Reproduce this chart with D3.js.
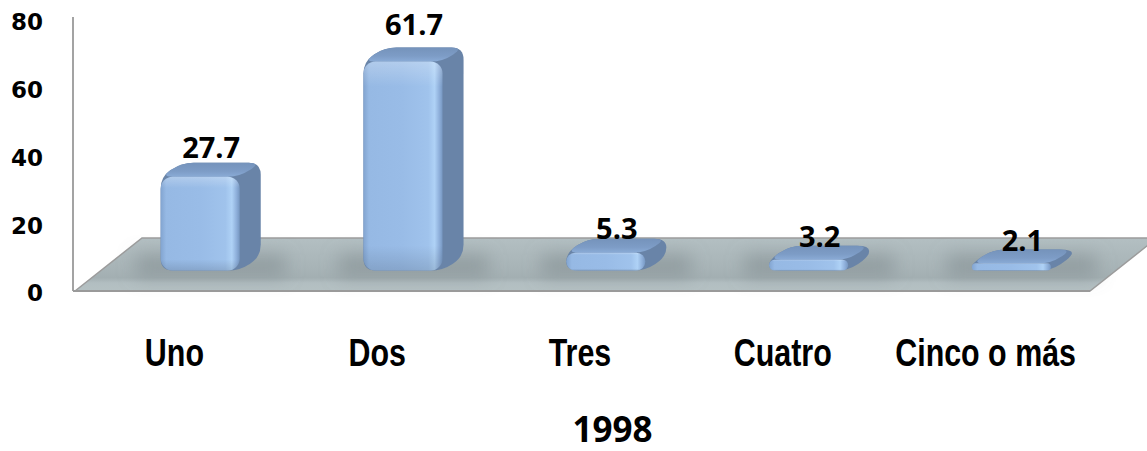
<!DOCTYPE html>
<html>
<head>
<meta charset="utf-8">
<script src="https://cdn.jsdelivr.net/npm/d3@7"></script>
<style>
  body { margin: 0; background: #fff; }
  .tick-label { font-family: "DejaVu Sans", Verdana, sans-serif; font-weight: bold; font-size: 23px; fill: #000; }
  .cat-label { font-family: "Liberation Sans", Arial, sans-serif; font-weight: bold; font-size: 38px; fill: #000; }
  .value-label { font-family: "Open Sans", "Noto Sans", sans-serif; font-weight: bold; font-size: 29px; fill: #000; }
  .axis-title { font-family: "Open Sans", "Noto Sans", sans-serif; font-weight: bold; font-size: 35px; fill: #000; }
</style>
</head>
<body>
<svg id="chart"></svg>
<script>
// data
const categories = ["Uno", "Dos", "Tres", "Cuatro", "Cinco o más"];
const values = [27.7, 61.7, 5.3, 3.2, 2.1];
const yTicks = [0, 20, 40, 60, 80];
const axisTitle = "1998";

const width = 1147, height = 451;
const narrow = 0.8; // no narrow font installed, squeeze the bold one

const svg = d3.select("#chart")
  .attr("width", width)
  .attr("height", height);

const x = d3.scaleBand().domain(categories).range([73, 1087]);
const y = d3.scaleLinear().domain([0, 80]).range([293, 22]);

// 3d projection bits
const floorY = 291;
const floorDepth = { dx: 67, dy: -53 };
const barPos = 0.385;              // where the bars sit inside the floor depth
const barDepth = { dx: 21, dy: -14 };
const barW = x.bandwidth() * 0.39;
const radius = 12;

const defs = svg.append("defs");

const frontGrad = defs.append("linearGradient").attr("id", "front");
[[0, "#82a4d0"], [0.07, "#96b9e4"], [0.5, "#99bce7"], [0.82, "#a0c3ec"], [0.9, "#afd2f6"], [0.96, "#8eafda"], [1, "#7697c1"]]
  .forEach(s => frontGrad.append("stop").attr("offset", s[0]).attr("stop-color", s[1]));

const frontShade = defs.append("linearGradient").attr("id", "frontShade")
  .attr("x1", 0).attr("x2", 0).attr("y1", 0).attr("y2", 1);
[[0, "#ffffff", 0.25], [0.12, "#ffffff", 0], [0.88, "#000000", 0], [1, "#000000", 0.12]]
  .forEach(s => frontShade.append("stop").attr("offset", s[0]).attr("stop-color", s[1]).attr("stop-opacity", s[2]));

const topGrad = defs.append("linearGradient").attr("id", "top")
  .attr("x1", 0).attr("x2", 0).attr("y1", 0).attr("y2", 1);
[[0, "#7593bb"], [0.6, "#7d9cc6"], [1, "#8aabd6"]]
  .forEach(s => topGrad.append("stop").attr("offset", s[0]).attr("stop-color", s[1]));

const floorGrad = defs.append("linearGradient").attr("id", "floor")
  .attr("x1", 0).attr("x2", 0).attr("y1", 0).attr("y2", 1);
[[0, "#b3bfc2"], [0.5, "#a9b5b8"], [0.75, "#a3afb2"], [0.85, "#b2bec1"], [1, "#b5c1c3"]]
  .forEach(s => floorGrad.append("stop").attr("offset", s[0]).attr("stop-color", s[1]));

defs.append("filter").attr("id", "blur")
  .attr("x", "-50%").attr("y", "-100%").attr("width", "200%").attr("height", "300%")
  .append("feGaussianBlur").attr("stdDeviation", 9);

function roundedPath(pts, r) {
  const p = d3.path();
  const n = pts.length;
  for (let i = 0; i < n; i++) {
    const a = pts[(i - 1 + n) % n], b = pts[i], c = pts[(i + 1) % n];
    const l1 = Math.hypot(b[0] - a[0], b[1] - a[1]);
    const l2 = Math.hypot(c[0] - b[0], c[1] - b[1]);
    const r1 = Math.min(r, l1 / 2), r2 = Math.min(r, l2 / 2);
    const s = [b[0] + (a[0] - b[0]) * r1 / l1, b[1] + (a[1] - b[1]) * r1 / l1];
    const e = [b[0] + (c[0] - b[0]) * r2 / l2, b[1] + (c[1] - b[1]) * r2 / l2];
    if (i === 0) p.moveTo(s[0], s[1]); else p.lineTo(s[0], s[1]);
    p.quadraticCurveTo(b[0], b[1], e[0], e[1]);
  }
  p.closePath();
  return p.toString();
}

// floor
const fx0 = x.range()[0] + 2, fx1 = x.range()[1] + 3;
svg.append("path")
  .attr("d", d3.line()([
    [fx0, floorY], [fx0 + floorDepth.dx, floorY + floorDepth.dy],
    [fx1 + floorDepth.dx, floorY + floorDepth.dy], [fx1, floorY]
  ]) + "Z")
  .attr("fill", "url(#floor)")
  .attr("stroke", "#9c9c9c")
  .attr("stroke-width", 1.5);

// shadows on the floor
const barBottom = floorY + floorDepth.dy * barPos;
const frontX = c => x(c) + x.bandwidth() / 2 + floorDepth.dx * barPos - barW / 2;

svg.append("g").attr("filter", "url(#blur)")
  .selectAll("rect")
  .data(categories)
  .join("rect")
  .attr("x", c => frontX(c) - 25)
  .attr("y", barBottom + barDepth.dy - 2)
  .attr("width", barW + barDepth.dx + 50)
  .attr("height", 22)
  .attr("fill", "#7d898d")
  .attr("opacity", 0.55);

// value axis line
svg.append("line")
  .attr("x1", 73).attr("x2", 73)
  .attr("y1", y(80) - 5).attr("y2", floorY)
  .attr("stroke", "#a3a3a3")
  .attr("stroke-width", 2);

svg.append("line")
  .attr("x1", 73).attr("x2", fx1)
  .attr("y1", floorY).attr("y2", floorY)
  .attr("stroke", "#9a9a9a")
  .attr("stroke-width", 2);

svg.append("g")
  .selectAll("text")
  .data(yTicks)
  .join("text")
  .attr("class", "tick-label")
  .attr("x", 43)
  .attr("y", d => y(d))
  .attr("dy", "0.36em")
  .attr("text-anchor", "end")
  .text(d => d);

// bars
const bars = svg.append("g")
  .selectAll("g")
  .data(categories.map((c, i) => ({ c, v: values[i] })))
  .join("g");

bars.each(function(d) {
  const g = d3.select(this);
  const h = y(0) - y(d.v);
  const x0 = frontX(d.c), x1 = x0 + barW;
  const yb = barBottom, yt = barBottom - h;
  const dx = barDepth.dx, dy = barDepth.dy;

  g.append("path")
    .attr("d", roundedPath([[x0, yb], [x0, yt], [x0 + dx, yt + dy], [x1 + dx, yt + dy], [x1 + dx, yb + dy], [x1, yb]], radius))
    .attr("fill", "#6984a8");

  g.append("path")
    .attr("d", roundedPath([[x0, yt], [x0 + dx, yt + dy], [x1 + dx, yt + dy], [x1, yt]], radius))
    .attr("fill", "url(#top)");

  const fr = Math.min(radius, h / 2);
  g.append("rect")
    .attr("x", x0).attr("y", yt)
    .attr("width", barW).attr("height", h)
    .attr("rx", fr).attr("ry", fr)
    .attr("fill", "url(#front)");
  g.append("rect")
    .attr("x", x0).attr("y", yt)
    .attr("width", barW).attr("height", h)
    .attr("rx", fr).attr("ry", fr)
    .attr("fill", "url(#frontShade)");

  g.append("text")
    .attr("class", "value-label")
    .attr("x", x0 + barW / 2 + 11)
    .attr("y", yb - h * 1.07 - 12)
    .attr("text-anchor", "middle")
    .text(d3.format(".1f")(d.v));
});

// category labels
svg.append("g")
  .selectAll("text")
  .data(categories)
  .join("text")
  .attr("class", "cat-label")
  .attr("transform", c => `translate(${x(c) + x.bandwidth() / 2},366) scale(${narrow},1)`)
  .attr("text-anchor", "middle")
  .text(c => c);

svg.append("text")
  .attr("class", "axis-title")
  .attr("x", (x.range()[0] + x.range()[1] + floorDepth.dx) / 2 - 1)
  .attr("y", 442)
  .attr("text-anchor", "middle")
  .text(axisTitle);
</script>
</body>
</html>
